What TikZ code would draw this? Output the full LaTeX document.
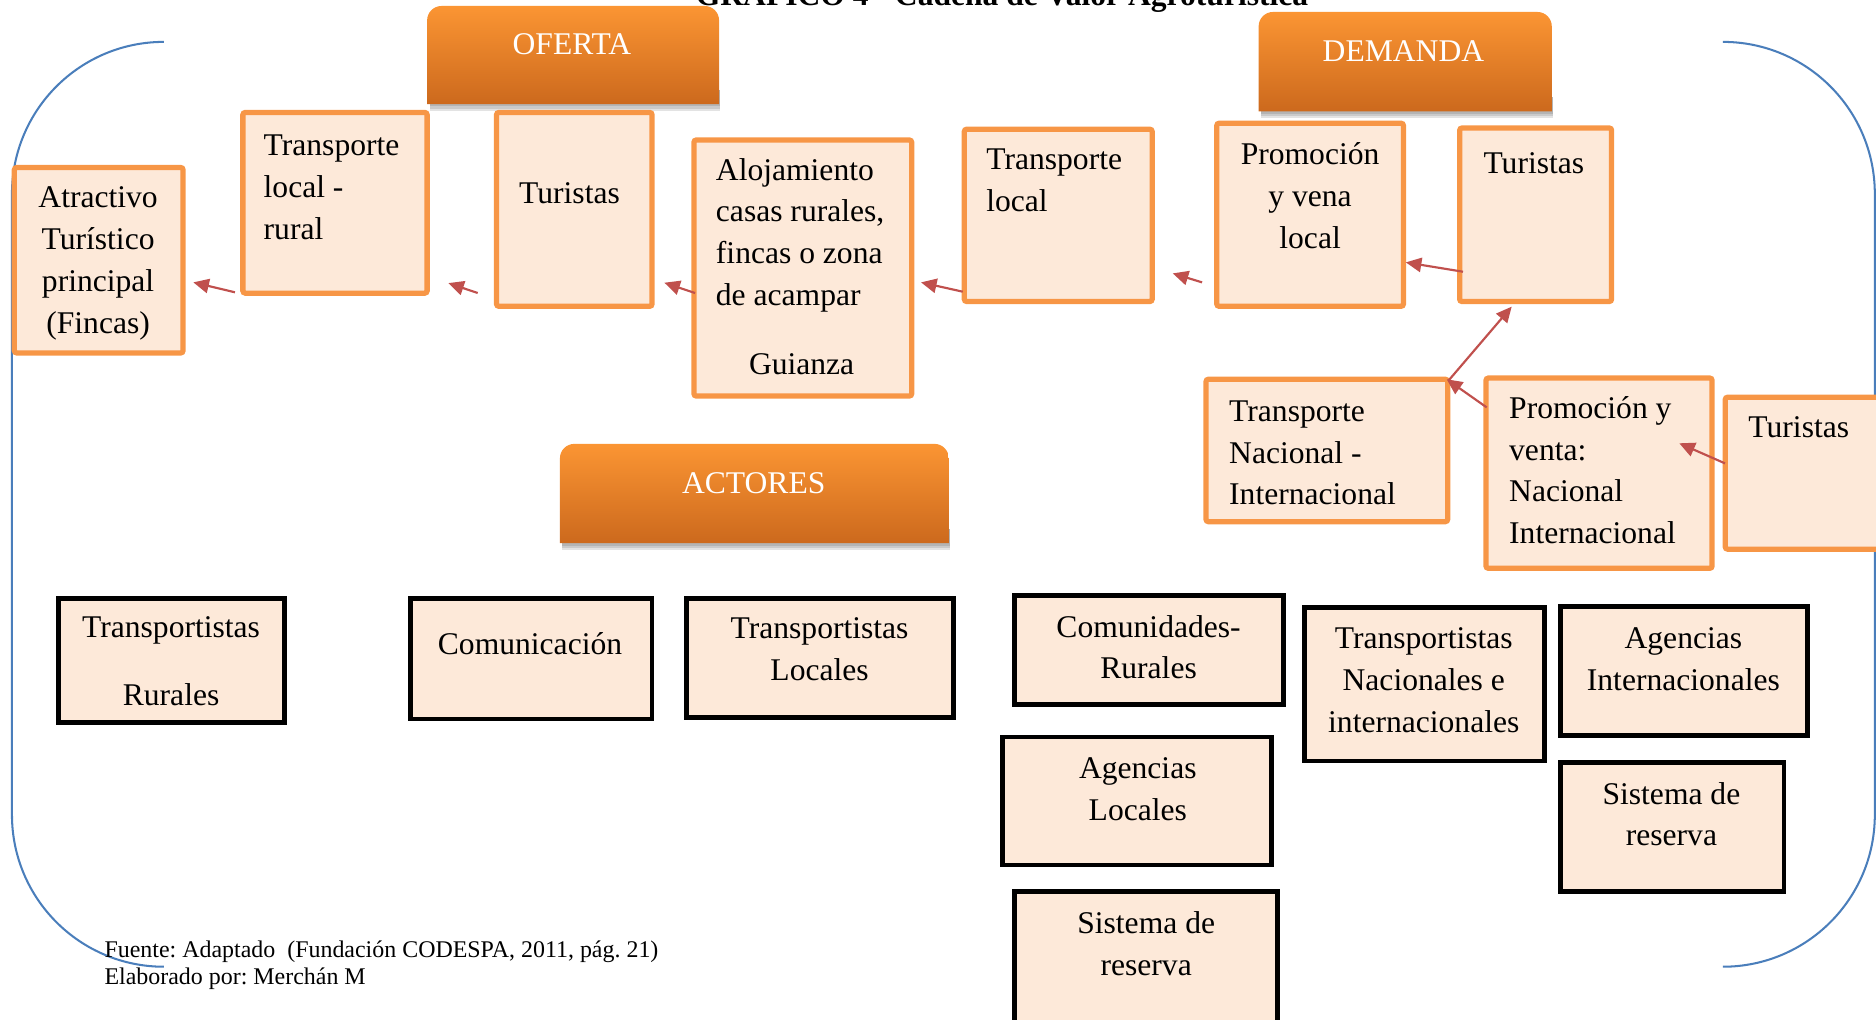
\documentclass[tikz,border=0pt]{standalone}
\usepackage{fontspec}
\setmainfont{Liberation Serif}
\usetikzlibrary{arrows.meta}
\frenchspacing
\definecolor{obord}{HTML}{F79646}
\definecolor{peach}{HTML}{FDE9D9}
\definecolor{ared}{HTML}{C0504D}
\definecolor{fblue}{HTML}{4A7EBB}
\definecolor{htop}{HTML}{FB9533}
\definecolor{hbot}{HTML}{CC691D}
\newcommand\mainfs{\fontsize{13.2}{17.5}\selectfont}
\newcommand\footfs{\fontsize{10}{11}\selectfont}
% #1 style, #2 x1, #3 y1, #4 x2, #5 y2, #6 name
\newcommand\boxat[6]{\node[#1, minimum width={(#4-#2)*0.5pt}, minimum height={(#5-#3)*0.5pt}] (#6) at ({(#2+#4)/2},{(#3+#5)/2}) {};}
% header background: x1 y1 x2 y2
\newcommand\hdrbg[4]{%
  \foreach \s in {2,4,6}{\fill[black,opacity=0.11] ({#1+2},{#4-12}) rectangle ({#3+1},{#4+\s});}
  \shade[top color=htop, bottom color=hbot] (#1,#4) -- (#1,{#2+12}) arc[start angle=180,end angle=90,radius=6pt] -- ({#3-12},#2) arc[start angle=90,end angle=0,radius=6pt] -- (#3,#4) -- cycle;}
\tikzset{
  obox/.style={draw=obord, fill=peach, line width=2.2pt, rounded corners=1pt, inner sep=0pt},
  kbox/.style={draw=black, fill=peach, line width=2pt, inner sep=0pt},
  txt/.style={inner sep=0pt, font=\mainfs, text=black},
  htxt/.style={inner sep=0pt, font=\mainfs, text=white},
  foot/.style={inner sep=0pt, font=\footfs, text=black},
  frame/.style={draw=fblue, line width=0.85pt},
  arr/.style={draw=ared, line width=0.9pt, -{Triangle[length=6.5pt,width=6pt]}}
}
\begin{document}
\begin{tikzpicture}[x=0.5pt,y=-0.5pt]
\useasboundingbox (0,0) rectangle (1568,852);
% title (cut off at top, as in the reference)
\node[txt, font=\bfseries\mainfs, anchor=base] (title) at (837.5,5) {GRÁFICO 4 - Cadena de Valor Agroturística};
% frame brackets
\draw[frame, rounded corners=63.5pt] (137,35) -- (10,35) -- (10,808) -- (137,808);
\draw[frame, rounded corners=63.5pt] (1440,35) -- (1567,35) -- (1567,808) -- (1440,808);
% headers
\hdrbg{357}{5}{601}{87}
\hdrbg{1052}{10}{1297}{93}
\hdrbg{468}{371}{793}{454}
\node[htxt] (oferta) at (478,37) {OFERTA};
\node[htxt] (demanda) at (1173,43) {DEMANDA};
\node[htxt] (actores) at (630,404) {ACTORES};
% orange boxes
\boxat{obox}{12}{140}{153}{295}{atr}
\boxat{obox}{203}{94}{357}{245}{tlr}
\boxat{obox}{415}{94}{545}{256}{tur1}
\boxat{obox}{580}{117}{762}{331}{aloj}
\boxat{obox}{806}{108}{963}{252}{tl}
\boxat{obox}{1017}{103}{1173}{256}{pvl}
\boxat{obox}{1220}{107}{1347}{252}{tur2}
\boxat{obox}{1008}{317}{1210}{436}{tni}
\boxat{obox}{1242}{316}{1431}{475}{pvn}
\boxat{obox}{1442}{332}{1600}{459}{tur3}
% black boxes
\boxat{kbox}{49}{500}{238}{604}{trur}
\boxat{kbox}{343}{500}{545}{601}{com}
\boxat{kbox}{574}{500}{797}{600}{tloc}
\boxat{kbox}{848}{498}{1073}{589}{comr}
\boxat{kbox}{1090}{508}{1291}{636}{tnac}
\boxat{kbox}{1304}{507}{1511}{615}{aint}
\boxat{kbox}{838}{616}{1063}{723}{aloc}
\boxat{kbox}{1304}{637}{1491}{745}{sres1}
\boxat{kbox}{848}{745}{1068}{880}{sres2}
% texts orange boxes
\node[txt, align=center] (atr-t) at (82,219) {Atractivo\strut\\Turístico\strut\\principal\strut\\(Fincas)\strut};
\node[txt, align=left, anchor=west] (tlr-t) at (220,158) {Transporte\strut\\local -\strut\\rural\strut};
\node[txt] (tur1-t) at (476,163) {Turistas\strut};
\node[txt, align=left, anchor=west] (aloj-t) at (598,196) {Alojamiento\strut\\casas rurales,\strut\\fincas o zona\strut\\de acampar\strut};
\node[txt] (aloj-g) at (670,306) {Guianza\strut};
\node[txt, align=left, anchor=west] (tl-t) at (824,152) {Transporte\strut\\local\strut};
\node[txt, align=center] (pvl-t) at (1095,165.5) {Promoción\strut\\y vena\strut\\local\strut};
\node[txt] (tur2-t) at (1282,138) {Turistas\strut};
\node[txt, align=left, anchor=west] (tni-t) at (1027,380) {Transporte\strut\\Nacional -\strut\\Internacional\strut};
\node[txt, align=left, anchor=west] (pvn-t) at (1261,395) {Promoción y\strut\\venta:\strut\\Nacional\strut\\Internacional\strut};
\node[txt, anchor=west] (tur3-t) at (1461,359) {Turistas\strut};
% texts black boxes
\node[txt, align=center] (trur-t) at (143,554.5) {Transportistas\strut\\[11pt]Rurales\strut};
\node[txt] (com-t) at (443,540) {Comunicación\strut};
\node[txt, align=center] (tloc-t) at (685,544) {Transportistas\strut\\Locales\strut};
\node[txt, align=center] (comr-t) at (960,543) {Comunidades-\strut\\Rurales\strut};
\node[txt, align=center] (tnac-t) at (1190,570) {Transportistas\strut\\Nacionales e\strut\\internacionales\strut};
\node[txt, align=center] (aint-t) at (1407,552.5) {Agencias\strut\\Internacionales\strut};
\node[txt, align=center] (aloc-t) at (951,661.5) {Agencias\strut\\Locales\strut};
\node[txt, align=center] (sres1-t) at (1397,682.5) {Sistema de\strut\\reserva\strut};
\node[txt, align=center] (sres2-t) at (958,790.5) {Sistema de\strut\\reserva\strut};
% arrows
\coordinate (a1s) at (196.4,244.3); \coordinate (a1e) at (161.6,236);
\coordinate (a2s) at (399.3,244.9); \coordinate (a2e) at (374.7,236.6);
\coordinate (a3s) at (580.9,244.9); \coordinate (a3e) at (555.3,236.3);
\coordinate (a4s) at (804.7,243.8); \coordinate (a4e) at (769.8,236);
\coordinate (a5s) at (1004.7,236); \coordinate (a5e) at (980.2,228.5);
\coordinate (a6s) at (1222.8,227.1); \coordinate (a6e) at (1175,219.3);
\coordinate (a7s) at (1210.6,318.2); \coordinate (a7e) at (1263.5,256.3);
\coordinate (a8s) at (1242.6,340.5); \coordinate (a8e) at (1209.2,317);
\coordinate (a9s) at (1441.8,387.3); \coordinate (a9e) at (1403.6,370.5);
\foreach \i in {1,...,9}{\draw[arr] (a\i s) -- (a\i e);}
% footer
\node[foot, anchor=base west] (fuente) at (87,800.7) {Fuente: Adaptado\ \ (Fundación CODESPA, 2011, pág. 21)};
\node[foot, anchor=base west] (elab) at (87,822.5) {Elaborado por: Merchán M};
\end{tikzpicture}
\end{document}
